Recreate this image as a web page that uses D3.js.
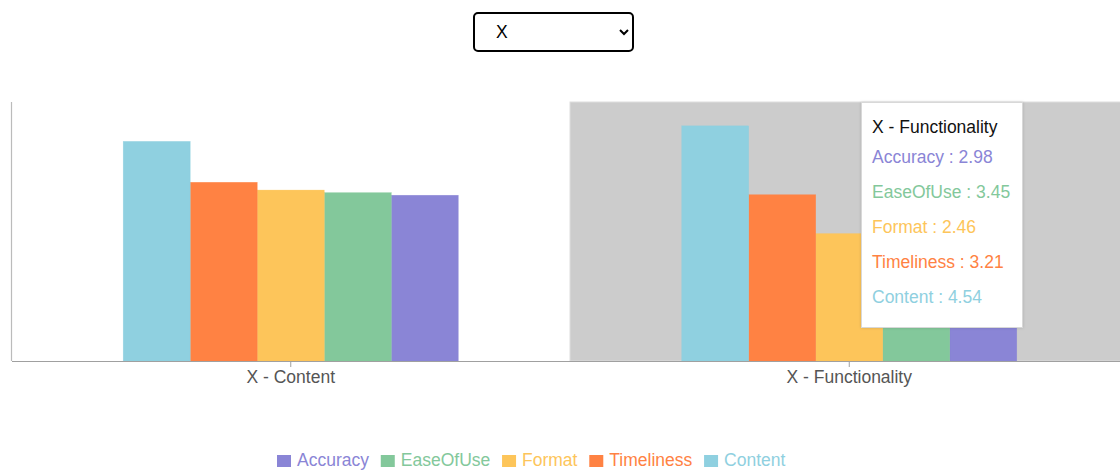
<!DOCTYPE html>
<html>
<head>
<meta charset="utf-8">
<script src="https://cdn.jsdelivr.net/npm/d3@7"></script>
<style>
  html, body { margin: 0; padding: 0; background: #fff; }
  body { width: 1120px; height: 471px; position: relative; overflow: hidden; font-family: "Liberation Sans", Arial, sans-serif; }
  #sel { position: absolute; left: 473px; top: 12px; width: 161px; height: 40px; border: 2px solid #000; border-radius: 5px;
         font-family: "Liberation Sans", Arial, sans-serif; font-size: 17.5px; padding-left: 17px; background: #fff; color: #000; box-sizing: border-box; }
  svg { position: absolute; left: 0; top: 0; }
</style>
</head>
<body>
<svg id="chart" width="1120" height="471"></svg>
<select id="sel"><option>X</option><option>Y</option></select>
<script>
const categories = ["X - Content", "X - Functionality"];
const seriesNames = ["Accuracy", "EaseOfUse", "Format", "Timeliness", "Content"];
const seriesColors = ["#8a85d6", "#83c89b", "#fdc55a", "#ff8243", "#8fd0e0"];
const accuracy   = [3.20, 2.98];
const easeOfUse  = [3.25, 3.45];
const format     = [3.30, 2.46];
const timeliness = [3.45, 3.21];
const content    = [4.24, 4.54];
const seriesValues = [accuracy, easeOfUse, format, timeliness, content];
const yDomain = [0, 5];
const hoverIndex = 1;

(function () {
const svg = d3.select("#chart");
const font = "'Liberation Sans', Arial, sans-serif";
const pLeft = 11.5, pRight = 1128.5, pTop = 102, pBottom = 361;

const x = d3.scaleBand().domain(categories).range([pLeft, pRight]).paddingInner(0).paddingOuter(0);
// bar order inside group: Content, Timeliness, Format, EaseOfUse, Accuracy
const barOrder = seriesNames.slice().reverse();
const xs = d3.scaleBand().domain(barOrder).range([0, x.bandwidth() * 0.6]);
const y = d3.scaleLinear().domain(yDomain).range([pBottom, pTop]);

// hover highlight
svg.append("rect")
  .attr("x", x(categories[hoverIndex])).attr("y", pTop)
  .attr("width", x.bandwidth()).attr("height", pBottom - pTop)
  .attr("fill", "#cccccc").attr("stroke", "#dddddd").attr("stroke-width", 1);

// bars
const rows = categories.map((c, i) => ({cat: c, vals: seriesNames.map((s, k) => ({name: s, value: seriesValues[k][i], color: seriesColors[k]}))}));
const g = svg.append("g");
rows.forEach(r => {
  const offset = x(r.cat) + x.bandwidth() * 0.2;
  g.selectAll(null).data(r.vals).enter().append("rect")
    .attr("x", d => offset + xs(d.name))
    .attr("y", d => y(d.value))
    .attr("width", xs.bandwidth())
    .attr("height", d => pBottom - y(d.value))
    .attr("fill", d => d.color)
    .attr("stroke", d => d.color).attr("stroke-opacity", 0.6).attr("stroke-width", 0.5);
});

// y axis (no ticks)
svg.append("line").attr("x1", pLeft).attr("x2", pLeft).attr("y1", pTop).attr("y2", pBottom)
  .attr("stroke", "#bbbbbb").attr("stroke-width", 1.2);

// x axis
const xAxis = d3.axisBottom(x).tickSize(6).tickSizeOuter(0);
const xa = svg.append("g").attr("transform", `translate(0,${pBottom})`).call(xAxis);
xa.select(".domain").attr("stroke", "#a0a0a0").attr("stroke-width", 1.2);
xa.selectAll(".tick line").attr("stroke", "#a0a0a0");
xa.selectAll(".tick text").attr("font-family", font).attr("font-size", "17.5px").attr("fill", "#555").attr("dy", "0.95em").attr("y", 5);

// legend
const legend = svg.append("g").attr("transform", "translate(277,466)");
let lx = 0;
seriesNames.forEach((s, k) => {
  legend.append("rect").attr("x", lx).attr("y", -11).attr("width", 14).attr("height", 12).attr("fill", seriesColors[k]);
  const t = legend.append("text").attr("x", lx + 20).attr("y", 0).text(s)
    .attr("font-family", font).attr("font-size", "17.5px").attr("fill", seriesColors[k]);
  lx += 20 + t.node().getComputedTextLength() + 11.8;
});

// tooltip
const defs = svg.append("defs");
const f = defs.append("filter").attr("id", "sh").attr("x", "-10%").attr("y", "-10%").attr("width", "120%").attr("height", "120%");
f.append("feDropShadow").attr("dx", 0).attr("dy", 0).attr("stdDeviation", 1.5).attr("flood-color", "#000").attr("flood-opacity", 0.15);
const tip = svg.append("g").attr("transform", "translate(861,102)");
tip.append("rect").attr("x", 0.5).attr("y", 0.5).attr("width", 161).attr("height", 225)
  .attr("fill", "#fff").attr("stroke", "#d8d8d8").attr("stroke-width", 1).attr("filter", "url(#sh)");
tip.append("text").attr("x", 11).attr("y", 31).text(categories[hoverIndex])
  .attr("font-family", font).attr("font-size", "17.5px").attr("fill", "#111");
seriesNames.forEach((s, k) => {
  tip.append("text").attr("x", 11).attr("y", 61 + k * 35)
    .text(`${s} : ${seriesValues[k][hoverIndex].toFixed(2)}`)
    .attr("font-family", font).attr("font-size", "17.5px").attr("fill", seriesColors[k]);
});
})();
</script>
</body>
</html>
